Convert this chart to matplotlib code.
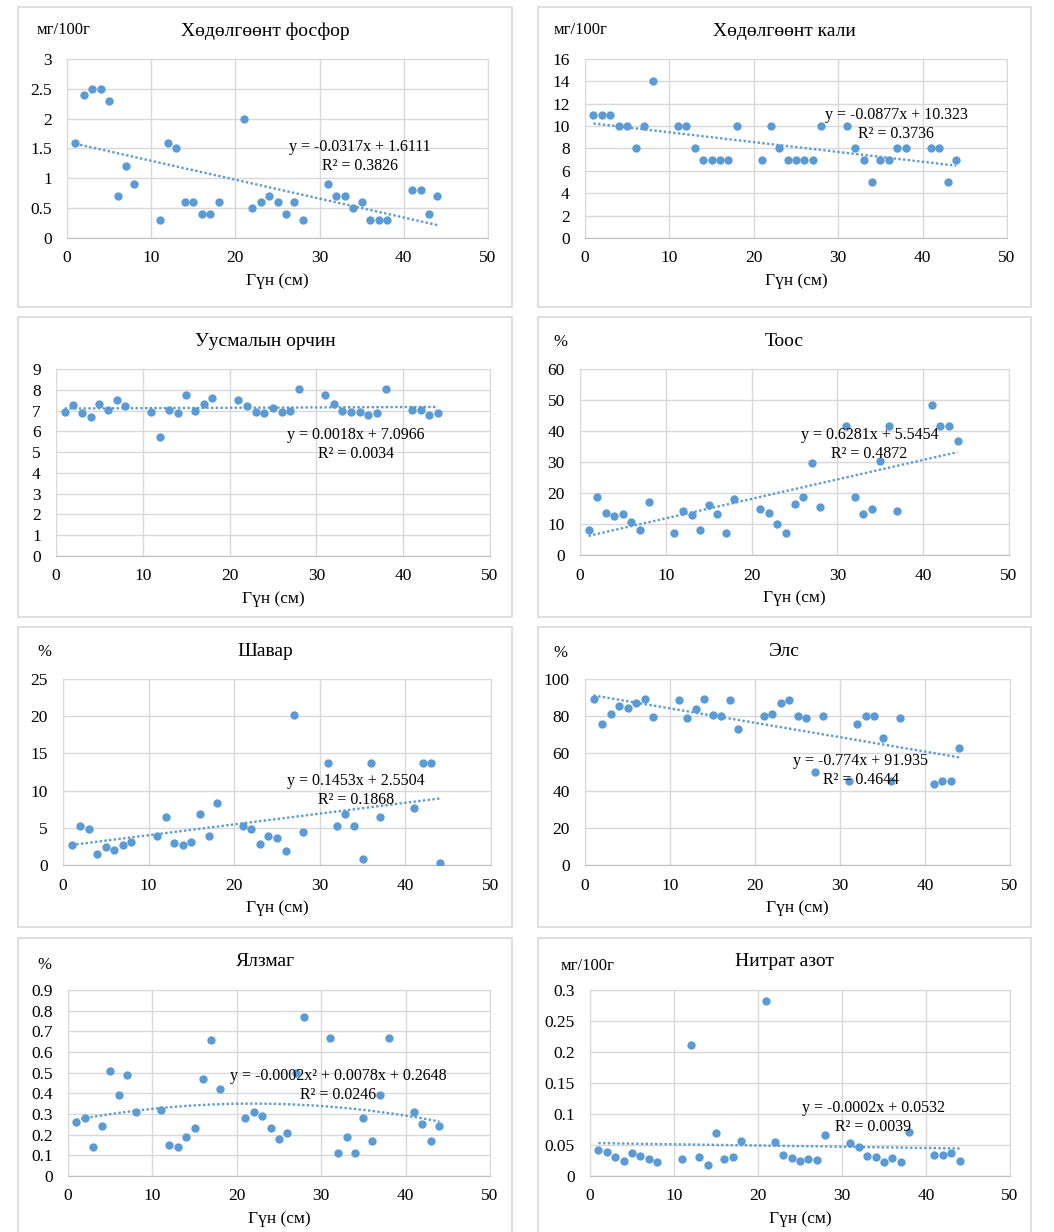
import numpy as np
import matplotlib
matplotlib.use("Agg")
import matplotlib.pyplot as plt
from matplotlib.patches import Rectangle

plt.rcParams["font.family"] = ["Liberation Serif", "DejaVu Serif"]

W, H = 1054, 1232
BLUE = "#5B9BD5"
GRID = "#d9d9d9"

# depth (cm) of every sample
depth = [1, 2, 3, 4, 5, 6, 7, 8, 11, 12, 13, 14, 15, 16, 17, 18,
         21, 22, 23, 24, 25, 26, 27, 28, 31, 32, 33, 34, 35, 36, 37, 38,
         41, 42, 43, 44]
# texture samples have no value at 38 cm
depth_tex = [1, 2, 3, 4, 5, 6, 7, 8, 11, 12, 13, 14, 15, 16, 17, 18,
             21, 22, 23, 24, 25, 26, 27, 28, 31, 32, 33, 34, 35, 36, 37,
             41, 42, 43, 44]

phosphor = [1.6, 2.4, 2.5, 2.5, 2.3, 0.7, 1.2, 0.9, 0.3, 1.6, 1.5, 0.6, 0.6, 0.4, 0.4, 0.6,
            2.0, 0.5, 0.6, 0.7, 0.6, 0.4, 0.6, 0.3, 0.9, 0.7, 0.7, 0.5, 0.6, 0.3, 0.3, 0.3,
            0.8, 0.8, 0.4, 0.7]
kali = [11, 11, 11, 10, 10, 8, 10, 14, 10, 10, 8, 7, 7, 7, 7, 10,
        7, 10, 8, 7, 7, 7, 7, 10, 10, 8, 7, 5, 7, 7, 8, 8,
        8, 8, 5, 7]
ph = [6.95, 7.25, 6.9, 6.7, 7.3, 7.05, 7.5, 7.2, 6.95, 5.75, 7.05, 6.9, 7.75, 7.0, 7.3, 7.6,
      7.5, 7.2, 6.95, 6.9, 7.1, 6.95, 7.0, 8.05, 7.75, 7.3, 7.0, 6.95, 6.95, 6.8, 6.9, 8.05,
      7.05, 7.05, 6.8, 6.9]
dust = [8.1, 18.6, 13.7, 12.6, 13.3, 10.5, 8.1, 17.1, 7.0, 14.3, 12.9, 8.1, 16.1, 13.3, 7.0, 18.2,
        14.8, 13.7, 10.0, 7.0, 16.3, 18.6, 29.8, 15.6, 41.5, 18.6, 13.3, 14.8, 30.4, 41.5, 14.3,
        48.5, 41.5, 41.5, 36.7]
clay = [2.65, 5.2, 4.9, 1.5, 2.4, 2.0, 2.65, 3.1, 3.9, 6.5, 3.0, 2.65, 3.1, 6.8, 3.9, 8.3,
        5.3, 4.9, 2.8, 3.9, 3.6, 1.9, 20.1, 4.4, 13.7, 5.2, 6.8, 5.3, 0.75, 13.7, 6.5,
        7.7, 13.7, 13.7, 0.25]
sand = [89.3, 76.0, 81.4, 85.5, 84.3, 87.3, 89.3, 79.6, 88.9, 79.2, 83.7, 89.3, 80.7, 80.0, 88.9, 73.2,
        80.0, 81.4, 87.1, 88.9, 80.0, 79.2, 49.9, 80.0, 44.9, 76.0, 80.0, 80.0, 68.5, 44.9, 79.2,
        43.5, 44.9, 44.9, 62.8]
humus = [0.26, 0.28, 0.14, 0.24, 0.51, 0.39, 0.49, 0.31, 0.32, 0.15, 0.14, 0.19, 0.23, 0.47, 0.66, 0.42,
         0.28, 0.31, 0.29, 0.23, 0.18, 0.21, 0.50, 0.77, 0.67, 0.11, 0.19, 0.11, 0.28, 0.17, 0.39, 0.67,
         0.31, 0.25, 0.17, 0.24]
nitrate = [0.042, 0.038, 0.030, 0.025, 0.037, 0.033, 0.027, 0.023, 0.028, 0.211, 0.031, 0.018, 0.070, 0.028, 0.030, 0.056,
           0.282, 0.055, 0.034, 0.029, 0.025, 0.028, 0.026, 0.066, 0.054, 0.047, 0.032, 0.031, 0.022, 0.029, 0.023, 0.071,
           0.034, 0.034, 0.037, 0.024]

titles = ["Хөдөлгөөнт фосфор", "Хөдөлгөөнт кали", "Уусмалын орчин", "Тоос",
          "Шавар", "Элс", "Ялзмаг", "Нитрат азот"]
units = ["мг/100г", "мг/100г", "", "%", "%", "%", "%", "мг/100г"]
series = [(depth, phosphor), (depth, kali), (depth, ph), (depth_tex, dust),
          (depth_tex, clay), (depth_tex, sand), (depth, humus), (depth, nitrate)]
ymax = [3, 16, 9, 60, 25, 100, 0.9, 0.3]
ystep = [0.5, 2, 1, 10, 5, 20, 0.1, 0.05]
# linear trend coefficients (slope, intercept); None -> 2nd order fit
trend = [(-0.0317, 1.6111), (-0.0877, 10.323), (0.0018, 7.0966), (0.6281, 5.5454),
         (0.1453, 2.5504), (-0.774, 91.935), None, (-0.0002, 0.0532)]
eq_text = ["y = -0.0317x + 1.6111\nR² = 0.3826",
           "y = -0.0877x + 10.323\nR² = 0.3736",
           "y = 0.0018x + 7.0966\nR² = 0.0034",
           "y = 0.6281x + 5.5454\nR² = 0.4872",
           "y = 0.1453x + 2.5504\nR² = 0.1868",
           "y = -0.774x + 91.935\nR² = 0.4644",
           "y = -0.0002x² + 0.0078x + 0.2648\nR² = 0.0246",
           "y = -0.0002x + 0.0532\nR² = 0.0039"]

# layout in pixels: panel box, plot area, equation centre (axes fraction)
boxes = [(18, 7, 512, 307), (538, 7, 1031, 307),
         (18, 317, 512, 617), (538, 317, 1031, 617),
         (18, 627, 512, 927), (538, 627, 1031, 927),
         (18, 938, 512, 1240), (538, 938, 1031, 1240)]
plots = [(67, 59, 488, 238), (585, 59, 1007, 238),
         (56, 369, 490, 556), (580, 369, 1009, 555),
         (63, 679, 491, 865), (585, 679, 1010, 865),
         (68, 990, 490, 1176), (590, 990, 1010, 1176)]
eq_pos = [(0.696, 0.455), (0.737, 0.632), (0.691, 0.598), (0.675, 0.592),
          (0.684, 0.402), (0.649, 0.508), (0.64, 0.487), (0.675, 0.315)]
unit_pos = [(37, 30), (554, 30), None, (553, 342), (37, 652), (553, 653), (37, 965), (561, 966)]

fig = plt.figure(figsize=(W / 100, H / 100), dpi=100)

def fx(px): return px / W
def fy(py): return 1 - py / H

for i in range(8):
    bx0, by0, bx1, by1 = boxes[i]
    fig.patches.append(Rectangle((fx(bx0), fy(by1)), fx(bx1 - bx0), (by1 - by0) / H,
                                 transform=fig.transFigure, fill=False,
                                 edgecolor=GRID, linewidth=1.2))
    px0, py0, px1, py1 = plots[i]
    ax = fig.add_axes([fx(px0), fy(py1), fx(px1 - px0), (py1 - py0) / H])
    x, y = series[i]
    ax.scatter(x, y, s=36, color=BLUE, zorder=3, linewidths=0)
    xs = np.linspace(min(x), max(x), 100)
    if trend[i] is None:
        c = np.polyfit(x, y, 2)
    else:
        c = trend[i]
    ax.plot(xs, np.polyval(c, xs), linestyle=(0, (1, 1)), color=BLUE, linewidth=1.7, zorder=2)

    ax.set_xlim(0, 50)
    ax.set_ylim(0, ymax[i])
    ax.set_xticks(range(0, 51, 10))
    yt = np.arange(0, ymax[i] + ystep[i] / 2, ystep[i])
    ax.set_yticks(yt)
    ax.set_yticklabels([f"{v:g}" for v in np.round(yt, 3)])
    ax.tick_params(length=0, labelsize=12.5, pad=9)
    ax.tick_params(axis="y", pad=11)
    ax.grid(True, color=GRID, linewidth=1)
    ax.set_axisbelow(True)
    for s in ax.spines.values():
        s.set_color(GRID)
    ax.spines["bottom"].set_color("#bfbfbf")
    ax.set_xlabel("Гүн (см)", fontsize=12.5, labelpad=5)

    ax.text(eq_pos[i][0], eq_pos[i][1], eq_text[i], transform=ax.transAxes,
            ha="center", va="center", fontsize=11.5, linespacing=1.25, zorder=4)

    fig.text(fx((bx0 + bx1) / 2), fy(by0 + 24), titles[i], ha="center", va="center", fontsize=14)
    if unit_pos[i]:
        fig.text(fx(unit_pos[i][0]), fy(unit_pos[i][1]), units[i], ha="left", va="center", fontsize=12)

fig.savefig("out.png", dpi=100)
